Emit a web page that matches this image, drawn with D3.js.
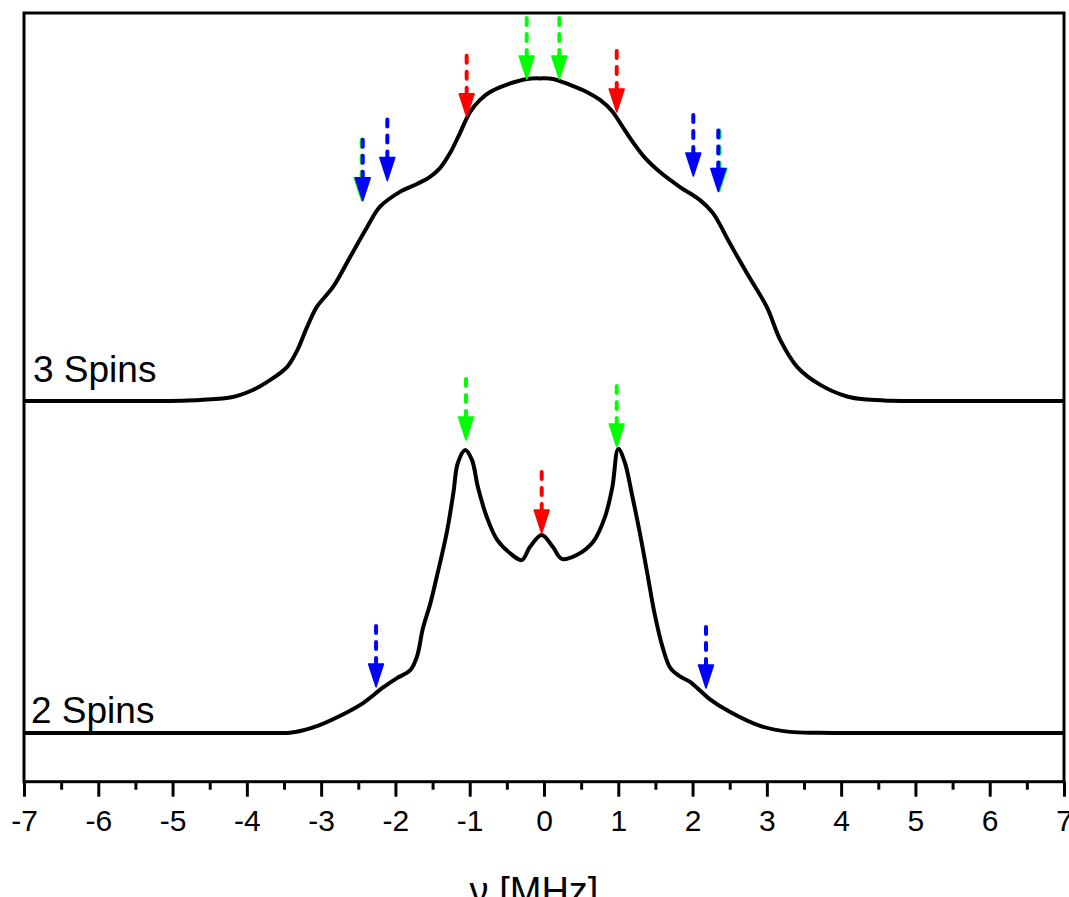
<!DOCTYPE html>
<html>
<head>
<meta charset="utf-8">
<script src="https://cdn.jsdelivr.net/npm/d3@7/dist/d3.min.js"></script>
<style>
  html, body { margin: 0; padding: 0; background: #fff; }
  svg { display: block; }
  text { font-family: "Liberation Sans", Arial, Helvetica, sans-serif; fill: #000; }
</style>
</head>
<body>
<svg id="chart" width="1069" height="897"></svg>
<script>
// ---------- data ----------
const xTicks = [-7, -6, -5, -4, -3, -2, -1, 0, 1, 2, 3, 4, 5, 6, 7];
const xMinorTicks = [-6.5, -5.5, -4.5, -3.5, -2.5, -1.5, -0.5, 0.5, 1.5, 2.5, 3.5, 4.5, 5.5, 6.5];
const seriesNames = ["3 Spins", "2 Spins"];
const seriesOffsets = [1.173, 0];

const spin3Nu = [-7.0, -6.0, -5.30, -4.63, -4.19, -3.92, -3.73, -3.46, -3.32, -3.19, -3.06, -2.84, -2.61, -2.38, -2.21, -1.94, -1.71, -1.535, -1.40, -1.265, -1.131, -0.996, -0.861, -0.727, -0.552, -0.229, -0.05, 0.12, 0.35, 0.575, 0.754, 0.915, 1.050, 1.185, 1.360, 1.561, 1.831, 2.100, 2.275, 2.50, 2.73, 3.00, 3.18, 3.41, 3.72, 4.08, 4.35, 4.66, 5.2, 6.0, 7.0];
const spin3Val = [0, 0, 0, 0.004, 0.014, 0.039, 0.067, 0.120, 0.180, 0.261, 0.332, 0.403, 0.509, 0.615, 0.686, 0.739, 0.767, 0.792, 0.823, 0.876, 0.947, 1.021, 1.064, 1.092, 1.113, 1.138, 1.140, 1.138, 1.117, 1.092, 1.064, 1.025, 0.972, 0.919, 0.859, 0.809, 0.756, 0.710, 0.664, 0.558, 0.452, 0.332, 0.216, 0.120, 0.057, 0.016, 0.005, 0.001, 0, 0, 0];

const spin2Nu = [-7.0, -6.0, -5.0, -4.3, -3.8, -3.42, -3.28, -3.02, -2.75, -2.44, -2.17, -1.98, -1.80, -1.71, -1.63, -1.53, -1.44, -1.31, -1.22, -1.16, -1.06, -0.97, -0.89, -0.77, -0.63, -0.46, -0.30, -0.19, -0.03, 0.12, 0.24, 0.44, 0.66, 0.82, 0.92, 1.00, 1.09, 1.18, 1.29, 1.39, 1.49, 1.60, 1.70, 1.83, 1.97, 2.23, 2.50, 2.91, 3.31, 3.7, 4.3, 5.0, 6.0, 7.0];
const spin2Val = [0, 0, 0, 0, 0, 0.001, 0.007, 0.028, 0.060, 0.105, 0.160, 0.194, 0.222, 0.270, 0.370, 0.458, 0.556, 0.707, 0.848, 0.954, 1.000, 0.965, 0.869, 0.763, 0.682, 0.636, 0.611, 0.657, 0.700, 0.657, 0.615, 0.629, 0.675, 0.763, 0.869, 1.004, 0.954, 0.848, 0.707, 0.565, 0.420, 0.300, 0.230, 0.200, 0.180, 0.120, 0.075, 0.025, 0.004, 0.001, 0, 0, 0, 0];

// arrows: position (MHz), tip level (plot units), colour
const arrowNu    = [-0.233, 0.206, -1.041, 0.979, -2.454, -2.440, -2.109, 2.010, 2.362, 2.346, -1.050, 0.979, -0.031, -2.261, 2.181];
const arrowTip   = [2.311, 2.311, 2.177, 2.194, 1.881, 1.881, 1.952, 1.968, 1.913, 1.913, 1.035, 1.011, 0.707, 0.163, 0.159];
const arrowColor = ["#00ff00", "#00ff00", "#ff0000", "#ff0000", "#00ff00", "#0000ff", "#0000ff", "#0000ff", "#00ff00", "#0000ff", "#00ff00", "#00ff00", "#ff0000", "#0000ff", "#0000ff"];

const xTitle = "ν [MHz]";

// ---------- layout ----------
const svg = d3.select("#chart");
const L = 24, R = 1064, T = 13, B = 781.7;
const x = d3.scaleLinear().domain([-7, 7]).range([L, R]);
const y = d3.scaleLinear().domain([-0.172, 2.544]).range([B, T]);

// curves
const series = [
  spin3Nu.map((n, i) => ({ nu: n, v: spin3Val[i] + seriesOffsets[0] })),
  spin2Nu.map((n, i) => ({ nu: n, v: spin2Val[i] + seriesOffsets[1] }))
];
const line = d3.line().x(d => x(d.nu)).y(d => y(d.v)).curve(d3.curveCatmullRom.alpha(0.5));
svg.append("g").selectAll("path").data(series).join("path")
  .attr("d", line)
  .attr("fill", "none")
  .attr("stroke", "#000")
  .attr("stroke-width", 4)
  .attr("stroke-linejoin", "round");

// series labels
const labelPos = [{ x: 33, y: 382 }, { x: 31, y: 723 }];
svg.append("g").selectAll("text").data(seriesNames).join("text")
  .attr("x", (d, i) => labelPos[i].x)
  .attr("y", (d, i) => labelPos[i].y)
  .attr("font-size", 37)
  .text(d => d);

// arrows
const arrows = arrowNu.map((n, i) => ({ nu: n, tip: arrowTip[i], color: arrowColor[i] }));
const ARROW_LEN = 63, HEAD_H = 23, HEAD_W = 15;
const ag = svg.append("g").selectAll("g").data(arrows).join("g");
ag.append("line")
  .attr("x1", d => x(d.nu)).attr("x2", d => x(d.nu))
  .attr("y1", d => y(d.tip) - ARROW_LEN + 2)
  .attr("y2", d => y(d.tip) - HEAD_H + 2)
  .attr("stroke", d => d.color)
  .attr("stroke-width", 4)
  .attr("stroke-linecap", "round")
  .attr("stroke-dasharray", "7,9");
ag.append("path")
  .attr("d", d => {
    const cx = x(d.nu), ty = y(d.tip);
    return `M${cx - HEAD_W / 2},${ty - HEAD_H} L${cx + HEAD_W / 2},${ty - HEAD_H} L${cx},${ty} Z`;
  })
  .attr("fill", d => d.color)
  .attr("stroke", d => d.color)
  .attr("stroke-width", 1.5)
  .attr("stroke-linejoin", "round");

// frame
svg.append("rect")
  .attr("x", L).attr("y", T).attr("width", R - L).attr("height", B - T)
  .attr("fill", "none").attr("stroke", "#000").attr("stroke-width", 3);

// x axis
const axis = d3.axisBottom(x).tickValues(xTicks).tickSize(15).tickPadding(13)
  .tickFormat(d => String(d));
const ax = svg.append("g").attr("transform", `translate(0,${B})`).call(axis);
ax.select(".domain").remove();
ax.selectAll(".tick line").attr("stroke", "#000").attr("stroke-width", 3);
ax.selectAll(".tick text").attr("font-size", 30).attr("fill", "#000")
  .attr("font-family", "'Liberation Sans', Arial, sans-serif");
const minor = d3.axisBottom(x).tickValues(xMinorTicks).tickSize(8).tickFormat("");
const mx = svg.append("g").attr("transform", `translate(0,${B})`).call(minor);
mx.select(".domain").remove();
mx.selectAll(".tick line").attr("stroke", "#000").attr("stroke-width", 3);

// axis title
svg.append("text")
  .attr("x", 534).attr("y", 904)
  .attr("text-anchor", "middle")
  .attr("font-size", 38)
  .text(xTitle);
</script>
</body>
</html>
